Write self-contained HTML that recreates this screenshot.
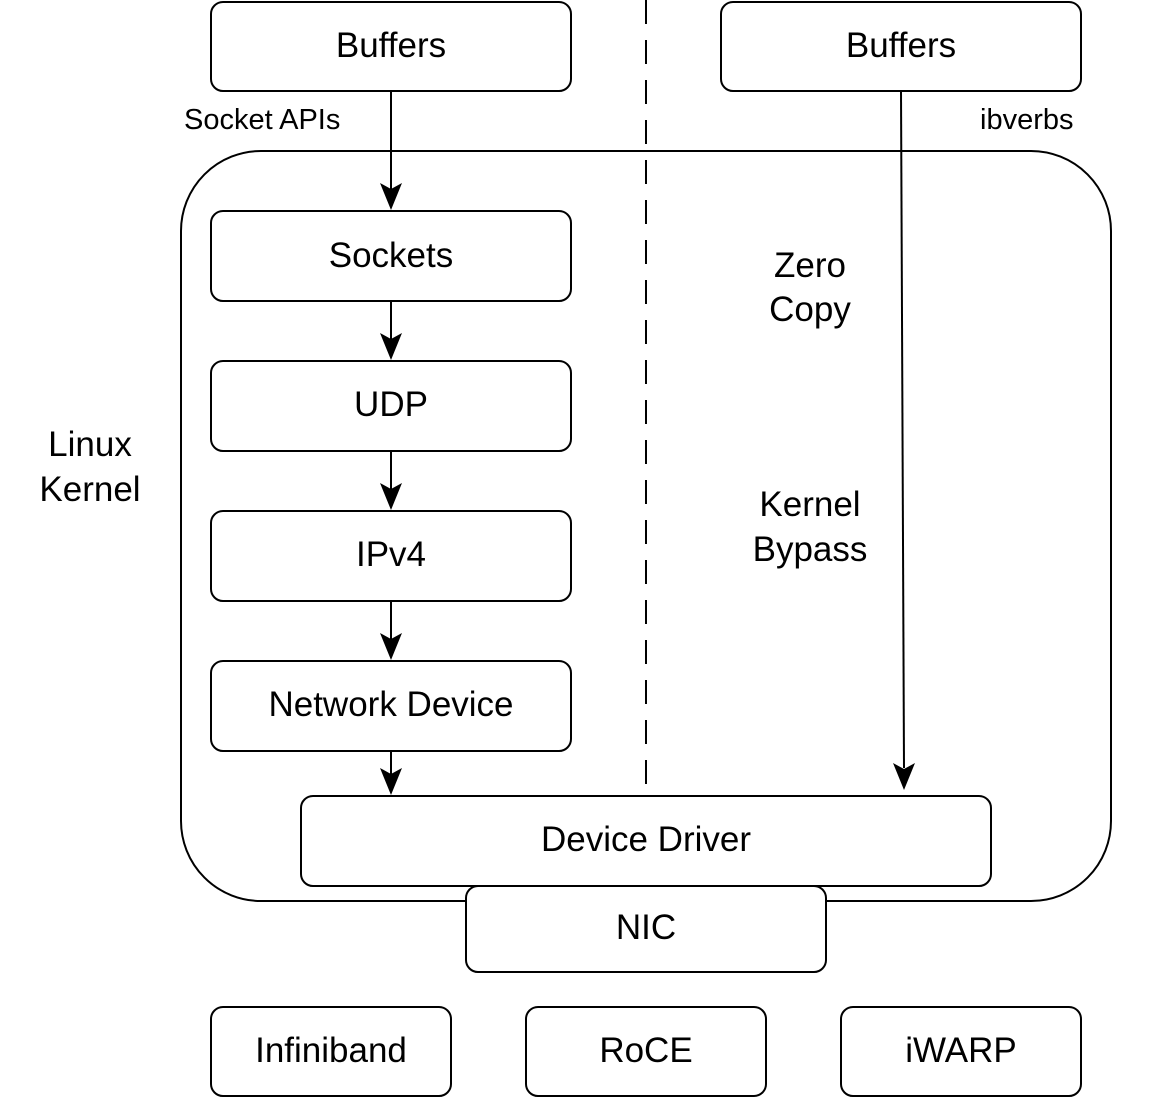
<!DOCTYPE html>
<html><head><meta charset="utf-8"><style>html,body{margin:0;padding:0;background:#fff}svg{display:block}</style></head>
<body>
<svg width="1164" height="1098" viewBox="0 0 1164 1098" xmlns="http://www.w3.org/2000/svg" font-family="Liberation Sans, Arial, sans-serif" fill="none" stroke="#000" stroke-width="2">
<rect x="181" y="151" width="930" height="750" rx="80" fill="#fff"/>
<line x1="646" y1="0" x2="646" y2="796" stroke-dasharray="24,16"/>
<g fill="#fff">
<rect x="211" y="2" width="360" height="89" rx="12"/>
<rect x="721" y="2" width="360" height="89" rx="12"/>
<rect x="211" y="211" width="360" height="90" rx="12"/>
<rect x="211" y="361" width="360" height="90" rx="12"/>
<rect x="211" y="511" width="360" height="90" rx="12"/>
<rect x="211" y="661" width="360" height="90" rx="12"/>
<rect x="301" y="796" width="690" height="90" rx="12"/>
<rect x="466" y="886" width="360" height="86" rx="12"/>
<rect x="211" y="1007" width="240" height="89" rx="12"/>
<rect x="526" y="1007" width="240" height="89" rx="12"/>
<rect x="841" y="1007" width="240" height="89" rx="12"/>
</g>
<line x1="391" y1="91" x2="391" y2="190"/>
<line x1="391" y1="301" x2="391" y2="340"/>
<line x1="391" y1="451" x2="391" y2="490"/>
<line x1="391" y1="601" x2="391" y2="640"/>
<line x1="391" y1="751" x2="391" y2="775"/>
<line x1="901" y1="91" x2="904" y2="768"/>
<g fill="#000" stroke="none">
<path d="M380 183 L391 210 L402 183 L391 189 Z"/>
<path d="M380 333 L391 360 L402 333 L391 339 Z"/>
<path d="M380 483 L391 510 L402 483 L391 489 Z"/>
<path d="M380 633 L391 660 L402 633 L391 639 Z"/>
<path d="M380 768 L391 795 L402 768 L391 774 Z"/>
<path d="M893 763 L904 790 L915 763 L904 769 Z"/>
</g>
<g fill="#000" stroke="none" font-size="35" text-anchor="middle">
<text x="391" y="57">Buffers</text>
<text x="901" y="57">Buffers</text>
<text x="391" y="267">Sockets</text>
<text x="391" y="416">UDP</text>
<text x="391" y="566">IPv4</text>
<text x="391" y="716">Network Device</text>
<text x="646" y="851">Device Driver</text>
<text x="646" y="939">NIC</text>
<text x="331" y="1062">Infiniband</text>
<text x="646" y="1062">RoCE</text>
<text x="961" y="1062">iWARP</text>
<text x="810" y="277">Zero</text>
<text x="810" y="321">Copy</text>
<text x="810" y="516">Kernel</text>
<text x="810" y="561">Bypass</text>
<text x="90" y="456">Linux</text>
<text x="90" y="501">Kernel</text>
</g>
<g fill="#000" stroke="none" font-size="29">
<text x="184" y="129">Socket APIs</text>
<text x="980" y="129">ibverbs</text>
</g>
</svg>
</body></html>
